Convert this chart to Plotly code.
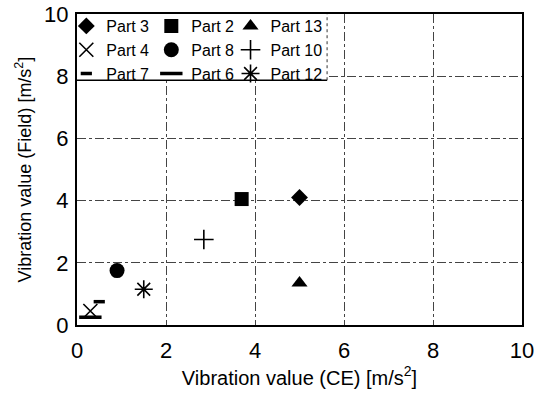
import plotly.graph_objects as go

# Measured vibration values per part: CE declaration vs. field measurement
parts = ["Part 3", "Part 2", "Part 13", "Part 4", "Part 8", "Part 10", "Part 7", "Part 6", "Part 12"]
vib_ce = [5.0, 3.7, 5.0, 0.3, 0.9, 2.85, 0.5, 0.3, 1.5]
vib_field = [4.1, 4.05, 1.35, 0.45, 1.75, 2.75, 0.75, 0.25, 1.15]

symbols = ["diamond", "square", "triangle-up", "x-thin", "circle", "cross-thin",
           "line-ew", "line-ew", "asterisk"]
sizes = [13, 14, 14, 14, 15, 14, 8, 16, 15]
line_widths = [0, 0, 0, 1.6, 0, 1.6, 3.5, 3.5, 1.6]

x_ticks = [0, 2, 4, 6, 8, 10]
y_ticks = [0, 2, 4, 6, 8, 10]

legend_ids = ["legend", "legend2", "legend3"]

fig = go.Figure()
for i, (name, x, y, sym, sz, lw) in enumerate(zip(parts, vib_ce, vib_field, symbols, sizes, line_widths)):
    fig.add_trace(go.Scatter(
        x=[x], y=[y], mode="markers", name=name,
        legend=legend_ids[i % 3],
        marker=dict(symbol=sym, size=sz, color="black",
                    line=dict(color="black", width=lw)),
    ))

font_family = "Liberation Sans, Arial, sans-serif"
axis_common = dict(
    range=[0, 10], showline=True, linecolor="black", linewidth=2, mirror=True,
    showgrid=True, gridcolor="#444444", griddash="dashdot", gridwidth=1,
    zeroline=False, ticks="", tickfont=dict(size=22, color="black", family=font_family),
)

# three legend columns, laid out over a shared white box
legend_common = dict(
    orientation="v", y=1.016, yanchor="top", xanchor="left",
    itemwidth=30, bgcolor="rgba(0,0,0,0)", borderwidth=0,
    font=dict(size=16, color="black", family=font_family),
    tracegroupgap=0,
)
legend_x = [-0.024, 0.167, 0.345]

box_right, box_bottom = 0.562, 0.787

fig.update_layout(
    width=546, height=400,
    margin=dict(l=77, r=24, t=14, b=75, autoexpand=False),
    paper_bgcolor="white", plot_bgcolor="white",
    font=dict(family=font_family, color="black"),
    showlegend=True,
    legend=dict(**legend_common, x=legend_x[0]),
    legend2=dict(**legend_common, x=legend_x[1]),
    legend3=dict(**legend_common, x=legend_x[2]),
    shapes=[
        dict(type="rect", xref="paper", yref="paper",
             x0=0, x1=box_right, y0=box_bottom, y1=1.0,
             fillcolor="white", line=dict(width=0), layer="above"),
        dict(type="line", xref="paper", yref="paper",
             x0=0, x1=box_right, y0=box_bottom, y1=box_bottom,
             line=dict(color="black", width=1.5), layer="above"),
        dict(type="line", xref="paper", yref="paper",
             x0=box_right, x1=box_right, y0=box_bottom, y1=1.0,
             line=dict(color="#333333", width=1, dash="dot"), layer="above"),
    ],
    xaxis=dict(**axis_common, tickvals=x_ticks, ticklabelstandoff=5,
               title=dict(text="Vibration value (CE) [m/s<sup>2</sup>]",
                          font=dict(size=20, color="black"), standoff=4)),
    yaxis=dict(**axis_common, tickvals=y_ticks, ticklabelstandoff=2,
               title=dict(text="Vibration value (Field) [m/s<sup>2</sup>]",
                          font=dict(size=18, color="black"), standoff=8)),
)

fig.write_html("out.html")
